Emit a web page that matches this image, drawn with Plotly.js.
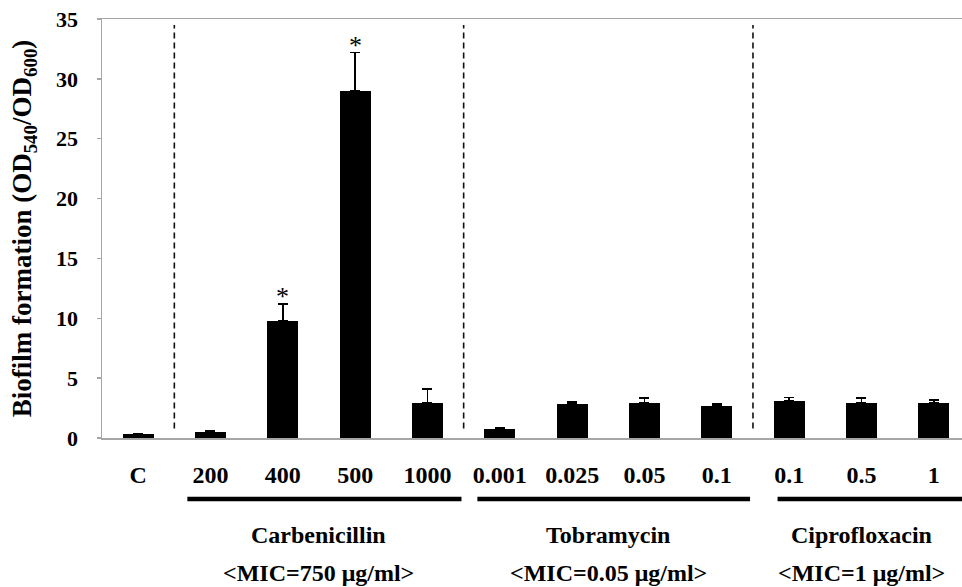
<!DOCTYPE html>
<html>
<head>
<meta charset="utf-8">
<script src="https://cdn.plot.ly/plotly-3.0.1.min.js"></script>
<style>html,body{margin:0;padding:0;background:#fff;}#chart{width:962px;height:587px;}</style>
</head>
<body>
<div id="chart"></div>
<script>
// ---- data ----
const tickLabels = ['C','200','400','500','1000','0.001','0.025','0.05','0.1','0.1','0.5','1'];
const values     = [0.3, 0.5, 9.8, 29.0, 2.95, 0.78, 2.84, 2.92, 2.7, 3.09, 2.92, 2.92];
const errors     = [0.03, 0.1, 1.4, 3.2, 1.15, 0.1, 0.15, 0.4, 0.12, 0.28, 0.4, 0.25];
const significant = [false,false,true,true,false,false,false,false,false,false,false,false];
const groupNames = ['Carbenicillin','Tobramycin','Ciprofloxacin'];
const groupMIC   = ['<MIC=750 μg/ml>','<MIC=0.05 μg/ml>','<MIC=1 μg/ml>'];
const groupFirst = [1, 5, 9];
const groupLast  = [4, 8, 11];
const yTicks     = [0, 5, 10, 15, 20, 25, 30, 35];

const xIdx = tickLabels.map((_, i) => i);
const FONT = 'Liberation Serif';
const AX = '#a6a6a6';

const trace = {
  type: 'bar',
  x: xIdx,
  y: values,
  width: 0.43,
  marker: {color: '#000000', line: {width: 0}},
  error_y: {type: 'data', symmetric: false, array: errors, arrayminus: values.map(() => 0),
            color: '#000000', thickness: 1.6, width: 5},
  hoverinfo: 'none'
};

const shapes = [];
[0.5, 4.5, 8.5].forEach(xd => shapes.push({
  type: 'line', xref: 'x', yref: 'y', x0: xd, x1: xd, y0: 0.8, y1: 34.5,
  line: {color: '#111', width: 1.6, dash: '6px,4px'}
}));
const brLeft = [0.32, 0.31, 0.16];
const brRight = [0.47, 0.46, 0.6];
groupNames.forEach((g, k) => shapes.push({
  type: 'line', xref: 'x', yref: 'paper',
  x0: groupFirst[k] - brLeft[k], x1: groupLast[k] + brRight[k], y0: -0.1456, y1: -0.1456,
  line: {color: '#000', width: 4.5}
}));

const esc = s => s.replace(/</g, '&lt;').replace(/>/g, '&gt;');
const annotations = [];
groupNames.forEach((g, k) => {
  const cx = (groupFirst[k] + groupLast[k]) / 2;
  annotations.push({xref: 'x', yref: 'paper', x: cx, y: -0.2315, text: '<b>' + g + '</b>',
    showarrow: false, xanchor: 'center', yanchor: 'middle', font: {family: FONT, size: 24, color: '#000'}});
  annotations.push({xref: 'x', yref: 'paper', x: cx, y: -0.322,
    text: '<b>' + esc(groupMIC[k]) + '</b>',
    showarrow: false, xanchor: 'center', yanchor: 'middle', font: {family: FONT, size: 24, color: '#000'}});
});
significant.forEach((s, i) => {
  if (s) annotations.push({xref: 'x', yref: 'y', x: i, y: values[i] + errors[i], text: '*',
    showarrow: false, xanchor: 'center', yanchor: 'bottom', yshift: -9,
    font: {family: FONT, size: 26, color: '#000'}});
});

const layout = {
  width: 962, height: 587,
  margin: {l: 102, r: 0, t: 19, b: 149, pad: 0},
  paper_bgcolor: '#fff', plot_bgcolor: '#fff',
  font: {family: FONT, color: '#000'},
  showlegend: false,
  bargap: 0,
  xaxis: {
    range: [-0.5, 11.39], tickmode: 'array', tickvals: xIdx, ticktext: tickLabels.map(t => '<b>' + t + '</b>'),
    showgrid: false, zeroline: false, showline: true, linecolor: AX, linewidth: 1.5, mirror: true,
    ticks: '', ticklabelstandoff: 15,
    tickfont: {family: FONT, size: 24, color: '#000'}, fixedrange: true
  },
  yaxis: {
    range: [0, 35], tickmode: 'array', tickvals: yTicks, ticktext: yTicks.map(v => '<b>' + v + '</b>'),
    showgrid: false, zeroline: false, showline: true, linecolor: AX, linewidth: 1.5,
    ticks: 'outside', ticklen: 4, tickcolor: AX, tickwidth: 1.5, ticklabelstandoff: 14,
    tickfont: {family: FONT, size: 22, color: '#000'},
    title: {text: '<b>Biofilm formation (OD<sub>540</sub>/OD<sub>600</sub>)</b>', standoff: 16,
            font: {family: FONT, size: 27, color: '#000'}},
    fixedrange: true
  },
  shapes: shapes,
  annotations: annotations
};

Plotly.newPlot('chart', [trace], layout, {displayModeBar: false, staticPlot: true});
</script>
</body>
</html>
